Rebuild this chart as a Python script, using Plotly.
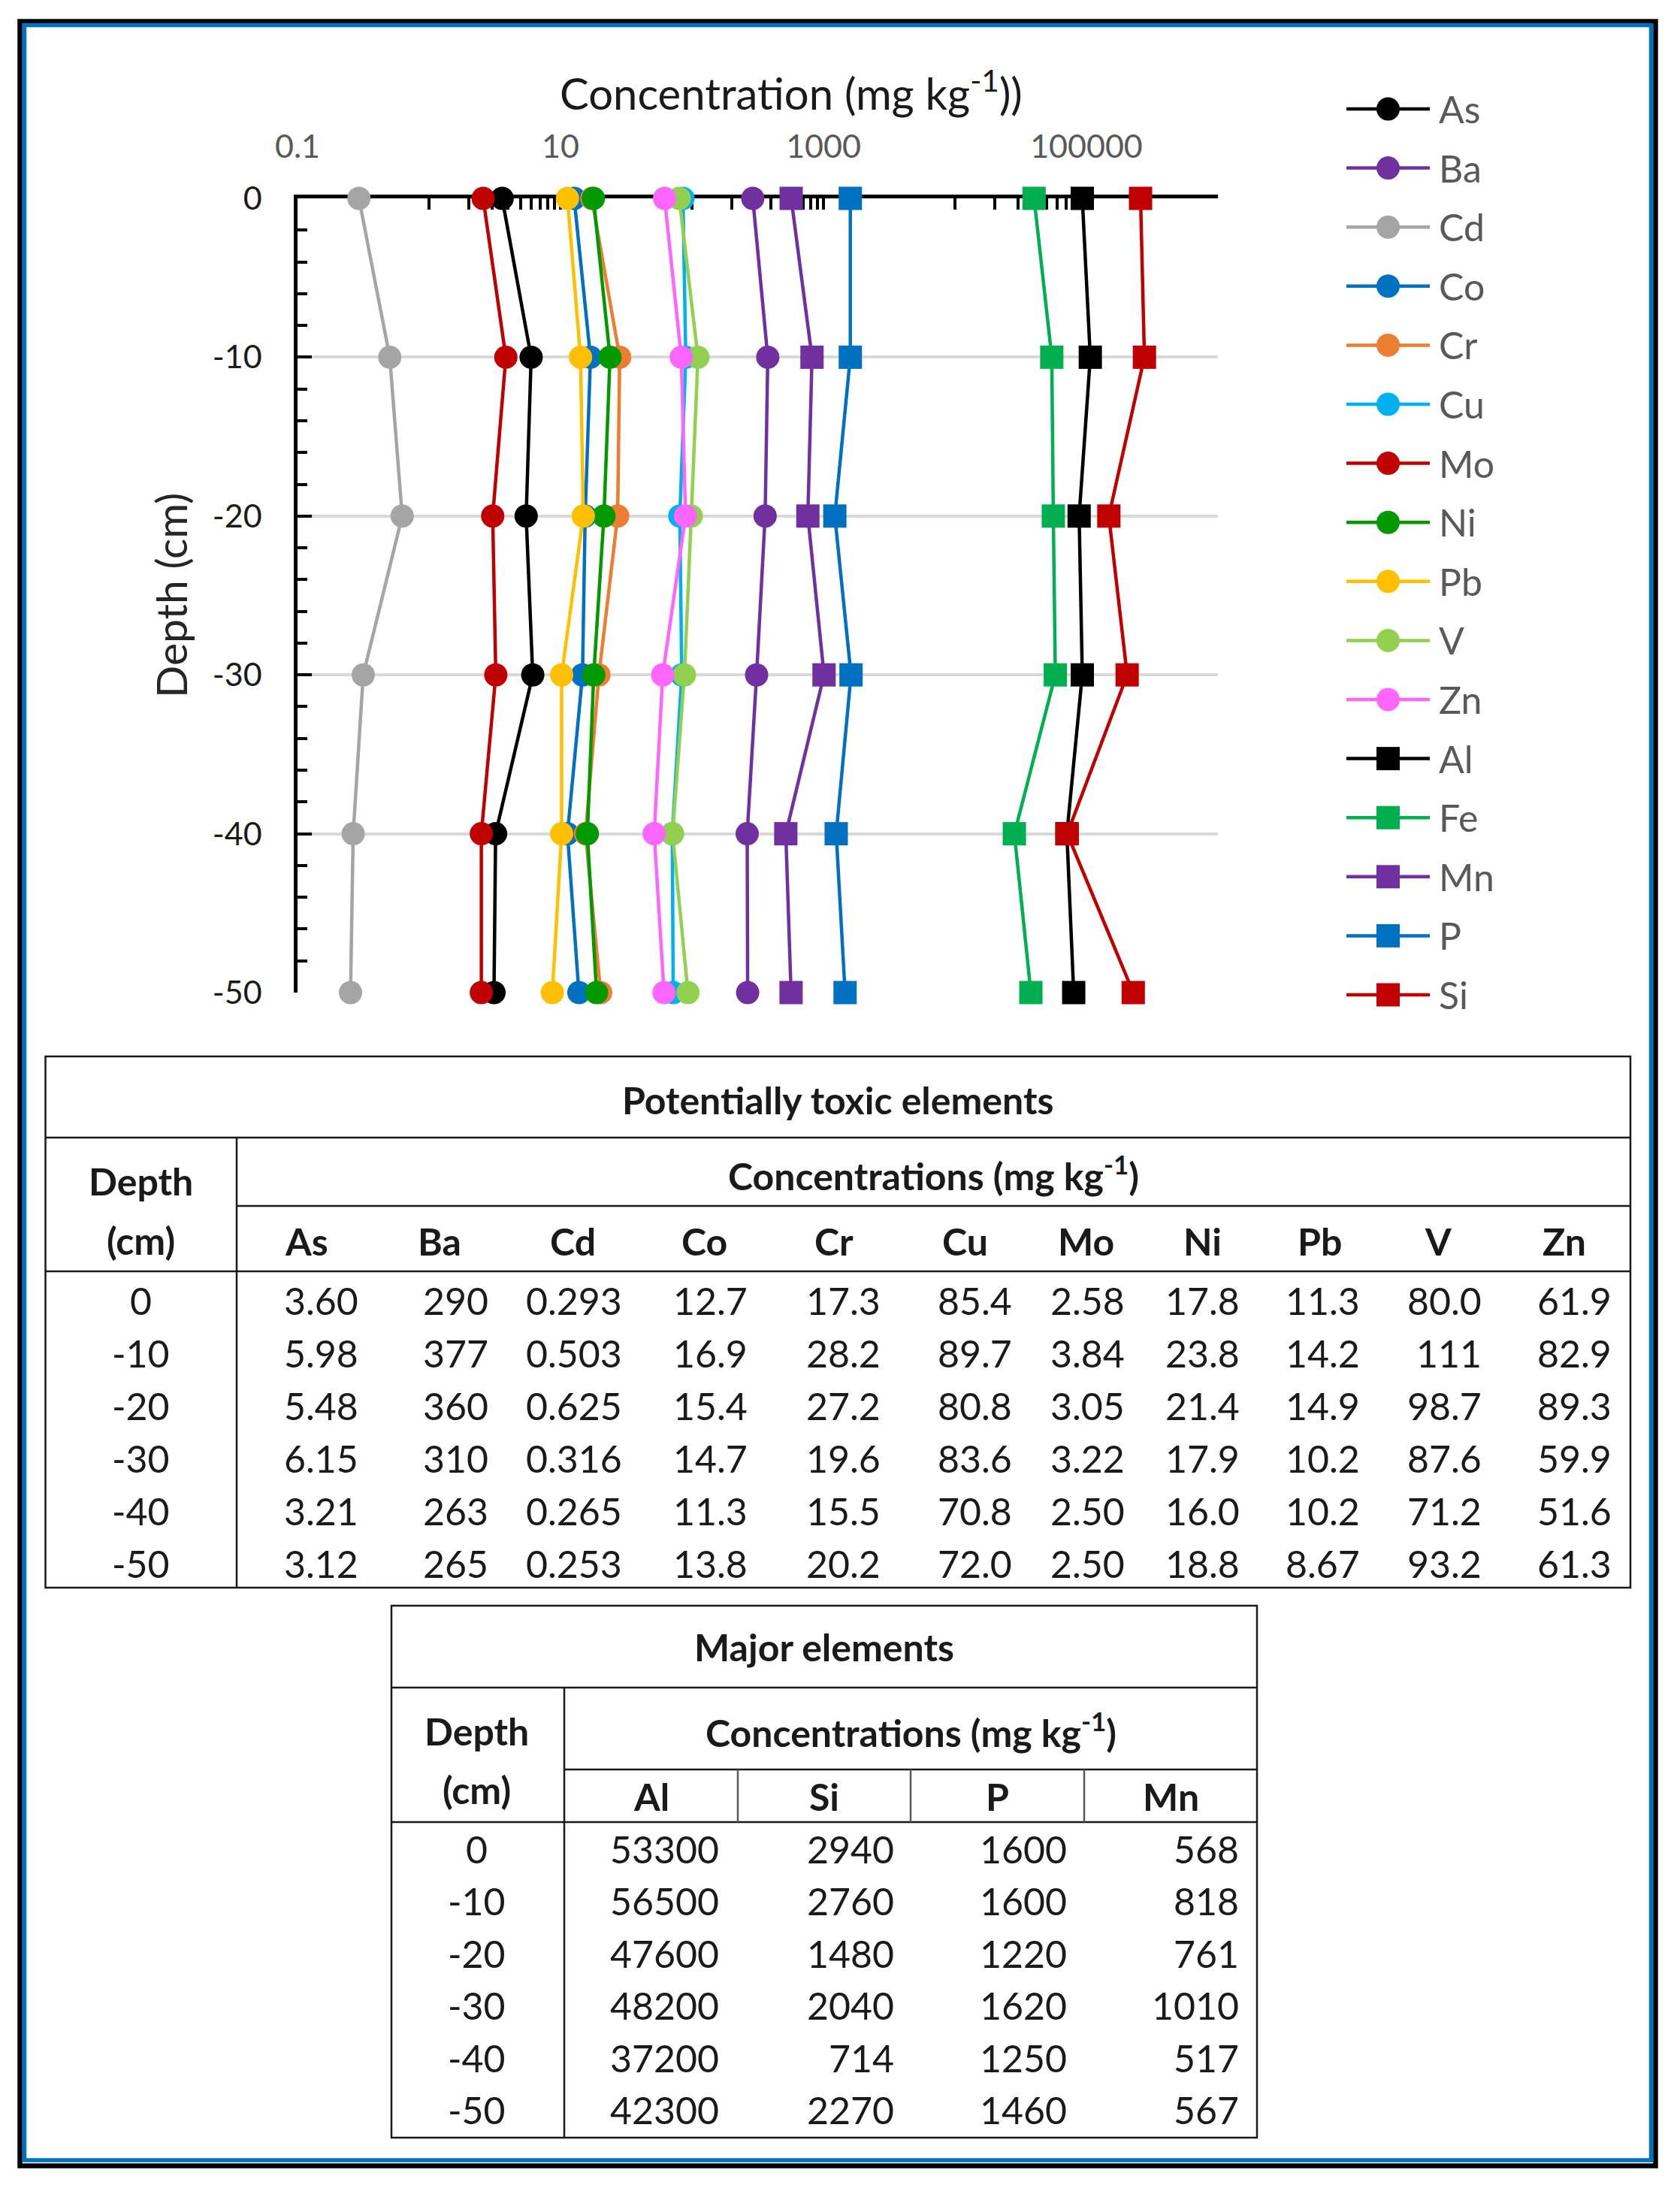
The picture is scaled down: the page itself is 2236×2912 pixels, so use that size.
import plotly.graph_objects as go

W, H = 2236, 2912

# ---------------- data ----------------
depths = [0, -10, -20, -30, -40, -50]
depth_labels = ["0", "-10", "-20", "-30", "-40", "-50"]

# Potentially toxic elements (mg kg-1)
pte_names = ["As", "Ba", "Cd", "Co", "Cr", "Cu", "Mo", "Ni", "Pb", "V", "Zn"]
As_vals = [3.60, 5.98, 5.48, 6.15, 3.21, 3.12]
Ba_vals = [290, 377, 360, 310, 263, 265]
Cd_vals = [0.293, 0.503, 0.625, 0.316, 0.265, 0.253]
Co_vals = [12.7, 16.9, 15.4, 14.7, 11.3, 13.8]
Cr_vals = [17.3, 28.2, 27.2, 19.6, 15.5, 20.2]
Cu_vals = [85.4, 89.7, 80.8, 83.6, 70.8, 72.0]
Mo_vals = [2.58, 3.84, 3.05, 3.22, 2.50, 2.50]
Ni_vals = [17.8, 23.8, 21.4, 17.9, 16.0, 18.8]
Pb_vals = [11.3, 14.2, 14.9, 10.2, 10.2, 8.67]
V_vals = [80.0, 111, 98.7, 87.6, 71.2, 93.2]
Zn_vals = [61.9, 82.9, 89.3, 59.9, 51.6, 61.3]

# Major elements as plotted (square markers)
major_plot_names = ["Al", "Fe", "Mn", "P", "Si"]
Al_plot = [93000, 107000, 88000, 93000, 71000, 80000]
Fe_plot = [40000, 54500, 56000, 58000, 28300, 37800]
Mn_vals = [568, 818, 761, 1010, 517, 567]
P_vals = [1600, 1600, 1220, 1620, 1250, 1460]
Si_plot = [258000, 276000, 148000, 204000, 71400, 227000]

# Major elements table
major_table_names = ["Al", "Si", "P", "Mn"]
Al_table = [53300, 56500, 47600, 48200, 37200, 42300]
Si_table = [2940, 2760, 1480, 2040, 714, 2270]

# x-axis ticks
x_major_ticks = [0.1, 10, 1000, 100000, 1000000]
x_major_text = ["0.1", "10", "1000", "100000", ""]
x_minor_ticks = [m * 10 ** e for e in (0, 2, 4) for m in range(1, 10)]

# ---------------- styles ----------------
FONT = "Lato"
colors = {
    "As": "#000000", "Ba": "#7030A0", "Cd": "#A5A5A5", "Co": "#0070C0",
    "Cr": "#ED7D31", "Cu": "#00B0F0", "Mo": "#C00000", "Ni": "#009A00",
    "Pb": "#FFC000", "V": "#92D050", "Zn": "#FF66FF",
    "Al": "#000000", "Fe": "#00B050", "Mn": "#7030A0", "P": "#0070C0",
    "Si": "#C00000",
}

series = [
    ("As", As_vals, "circle"), ("Ba", Ba_vals, "circle"), ("Cd", Cd_vals, "circle"),
    ("Co", Co_vals, "circle"), ("Cr", Cr_vals, "circle"), ("Cu", Cu_vals, "circle"),
    ("Mo", Mo_vals, "circle"), ("Ni", Ni_vals, "circle"), ("Pb", Pb_vals, "circle"),
    ("V", V_vals, "circle"), ("Zn", Zn_vals, "circle"),
    ("Al", Al_plot, "square"), ("Fe", Fe_plot, "square"), ("Mn", Mn_vals, "square"),
    ("P", P_vals, "square"), ("Si", Si_plot, "square"),
]


def px(x):
    return x / W


def py(y):
    return 1 - y / H


fig = go.Figure()

MS = 31
LW = 4.5
for name, vals, sym in series:
    fig.add_trace(go.Scatter(
        x=vals, y=depths, name=name, mode="lines+markers",
        line=dict(color=colors[name], width=LW),
        marker=dict(symbol=sym, size=MS, color=colors[name], opacity=1,
                    line=dict(width=0)),
        cliponaxis=False, showlegend=False, xaxis="x", yaxis="y",
    ))

# custom legend (long line samples with big markers) on its own hidden axes
for i, (name, vals, sym) in enumerate(series):
    fig.add_trace(go.Scatter(
        x=[0, 0.5, 1], y=[i, i, i], mode="lines",
        line=dict(color=colors[name], width=LW),
        cliponaxis=False, showlegend=False, hoverinfo="skip",
        xaxis="x2", yaxis="y2",
    ))
    fig.add_trace(go.Scatter(
        x=[0.5], y=[i], mode="markers",
        marker=dict(symbol=sym, size=MS, color=colors[name], opacity=1,
                    line=dict(width=0)),
        cliponaxis=False, showlegend=False, hoverinfo="skip",
        xaxis="x2", yaxis="y2",
    ))

# ---------------- layout ----------------
plot_left, plot_right = 396, 1621
plot_top, plot_bottom = 264, 1321

leg_top, leg_step = 145, 78.6
n_items = len(series)
leg_y0 = leg_top - leg_step / 2
leg_y1 = leg_top + leg_step * (n_items - 1) + leg_step / 2

fig.update_layout(
    template="none",
    width=W, height=H,
    margin=dict(l=0, r=0, t=0, b=0, pad=0, autoexpand=False),
    paper_bgcolor="white", plot_bgcolor="white",
    font=dict(family=FONT, color="#1a1a1a"),
    showlegend=False,
    xaxis=dict(
        type="log", range=[-1, 6], domain=[px(plot_left), px(plot_right)],
        side="top", anchor="y", automargin=False,
        showline=True, linecolor="black", linewidth=4.5, mirror=False,
        showgrid=False, zeroline=False,
        tickmode="array", tickvals=x_major_ticks, ticktext=x_major_text,
        ticks="inside", ticklen=15, tickwidth=3.5, tickcolor="black",
        minor=dict(tickmode="array", tickvals=x_minor_ticks, ticks="inside",
                   ticklen=15, tickwidth=3.5, tickcolor="black", showgrid=False),
        tickfont=dict(family=FONT, size=43, color="#595959"),
        ticklabelstandoff=32,
        layer="below traces", fixedrange=True,
    ),
    yaxis=dict(
        range=[-50, 0], domain=[py(plot_bottom), py(plot_top)], anchor="x",
        automargin=False,
        showline=True, linecolor="black", linewidth=4.5, mirror=False,
        showgrid=True, gridcolor="#D9D9D9", gridwidth=3.5, zeroline=False,
        tickmode="array", tickvals=depths, ticktext=depth_labels,
        ticks="inside", ticklen=19, tickwidth=4, tickcolor="black",
        minor=dict(dtick=2, ticks="inside", ticklen=13, tickwidth=4,
                   tickcolor="black", showgrid=False),
        tickfont=dict(family=FONT, size=43, color="#1a1a1a"),
        ticklabelstandoff=34,
        layer="below traces", fixedrange=True,
    ),
    xaxis2=dict(domain=[px(1792), px(1903)], range=[0, 1], visible=False,
                anchor="y2", fixedrange=True, automargin=False),
    yaxis2=dict(domain=[py(leg_y1), py(leg_y0)], range=[n_items - 0.5, -0.5],
                visible=False, anchor="x2", fixedrange=True, automargin=False),
)

annotations = []
shapes = []


def text(x, y, s, size=50, bold=False, anchor="center", color="#1a1a1a", angle=0):
    annotations.append(dict(
        x=px(x), y=py(y), xref="paper", yref="paper",
        text=f"<b>{s}</b>" if bold else s, showarrow=False,
        xanchor=anchor, yanchor="middle", textangle=angle,
        font=dict(family=FONT, size=size, color=color),
    ))


def hline(x0, x1, y, w=2.5, c="#1a1a1a"):
    shapes.append(dict(type="line", xref="paper", yref="paper",
                       x0=px(x0), x1=px(x1), y0=py(y), y1=py(y),
                       line=dict(color=c, width=w)))


def vline(x, y0, y1, w=2.5, c="#1a1a1a"):
    shapes.append(dict(type="line", xref="paper", yref="paper",
                       x0=px(x), x1=px(x), y0=py(y0), y1=py(y1),
                       line=dict(color=c, width=w)))


# axis titles
text(1053, 120, "Concentration (mg kg<sup>-1</sup>))", size=58, color="#1a1a1a")
text(227, 793, "Depth (cm)", size=57, color="#262626", angle=-90)

# legend labels
for i, (name, vals, sym) in enumerate(series):
    text(1913, leg_top + leg_step * i, name, size=50, anchor="left", color="#595959")


def fmt3(v):
    s = f"{v:#.3g}"
    return s.rstrip(".")


# ---------------- table 1: potentially toxic elements ----------------
t1_left, t1_right, t1_top, t1_bottom = 60.5, 2170, 1406, 2113
t1_title_line, t1_conc_line, t1_head_line, t1_vx = 1514, 1605, 1692, 315
shapes.append(dict(type="rect", xref="paper", yref="paper",
                   x0=px(t1_left), x1=px(t1_right), y0=py(t1_bottom), y1=py(t1_top),
                   line=dict(color="#1a1a1a", width=2.5)))
hline(t1_left, t1_right, t1_title_line)
hline(t1_vx, t1_right, t1_conc_line)
hline(t1_left, t1_right, t1_head_line)
vline(t1_vx, t1_title_line, t1_bottom)

text((t1_left + t1_right) / 2, 1464, "Potentially toxic elements", bold=True)
text((t1_vx + t1_right) / 2, 1561, "Concentrations (mg kg<sup>-1</sup>)", bold=True)
text(187, 1572, "Depth", bold=True)
text(187, 1651, "(cm)", bold=True)

t1_head_x = [408, 585, 762, 938, 1110, 1284, 1445, 1600, 1756, 1914, 2082]
t1_right_x = [479, 652, 830, 997, 1174, 1349, 1499, 1652, 1812, 1974, 2147]
t1_row_y0, t1_row_step = 1731, 70
pte_columns = [As_vals, Ba_vals, Cd_vals, Co_vals, Cr_vals, Cu_vals, Mo_vals,
               Ni_vals, Pb_vals, V_vals, Zn_vals]
for name, hx in zip(pte_names, t1_head_x):
    text(hx, 1652, name, bold=True)
for r, lab in enumerate(depth_labels):
    yy = t1_row_y0 + t1_row_step * r
    text(187, yy, lab)
    for col, rx in zip(pte_columns, t1_right_x):
        text(rx, yy, fmt3(col[r]), anchor="right")

# ---------------- table 2: major elements ----------------
t2_left, t2_right, t2_top, t2_bottom = 521, 1673, 2137, 2845
t2_title_line, t2_conc_line, t2_head_line, t2_vx = 2246, 2355, 2425, 751
t2_col_edges = [751, 982, 1212, 1443, 1673]
shapes.append(dict(type="rect", xref="paper", yref="paper",
                   x0=px(t2_left), x1=px(t2_right), y0=py(t2_bottom), y1=py(t2_top),
                   line=dict(color="#1a1a1a", width=2.5)))
hline(t2_left, t2_right, t2_title_line)
hline(t2_vx, t2_right, t2_conc_line)
hline(t2_left, t2_right, t2_head_line)
vline(t2_vx, t2_title_line, t2_bottom)
for ex in t2_col_edges[1:-1]:
    vline(ex, t2_conc_line, t2_head_line, c="#595959")

text((t2_left + t2_right) / 2, 2192, "Major elements", bold=True)
text((t2_vx + t2_right) / 2, 2302, "Concentrations (mg kg<sup>-1</sup>)", bold=True)
text(634, 2304, "Depth", bold=True)
text(634, 2382, "(cm)", bold=True)

t2_right_x = [959, 1192, 1422, 1651]
major_columns = [Al_table, Si_table, P_vals, Mn_vals]
for k, name in enumerate(major_table_names):
    text((t2_col_edges[k] + t2_col_edges[k + 1]) / 2, 2391, name, bold=True)
t2_row_y0, t2_row_step = 2461, 69.4
for r, lab in enumerate(depth_labels):
    yy = t2_row_y0 + t2_row_step * r
    text(634, yy, lab)
    for col, rx in zip(major_columns, t2_right_x):
        text(rx, yy, f"{col[r]:d}", anchor="right")

# ---------------- outer frame ----------------
shapes.append(dict(type="rect", xref="paper", yref="paper",
                   x0=px(26.5), x1=px(2203.5), y0=py(2882.5), y1=py(28.5),
                   line=dict(color="black", width=6.5)))
shapes.append(dict(type="rect", xref="paper", yref="paper",
                   x0=px(32.5), x1=px(2197.5), y0=py(2875), y1=py(33.5),
                   line=dict(color="#0070C0", width=5.5)))

fig.update_layout(annotations=annotations, shapes=shapes)

fig.write_html("out.html", config={"displayModeBar": False},
               post_script="document.body.style.margin='0';")
